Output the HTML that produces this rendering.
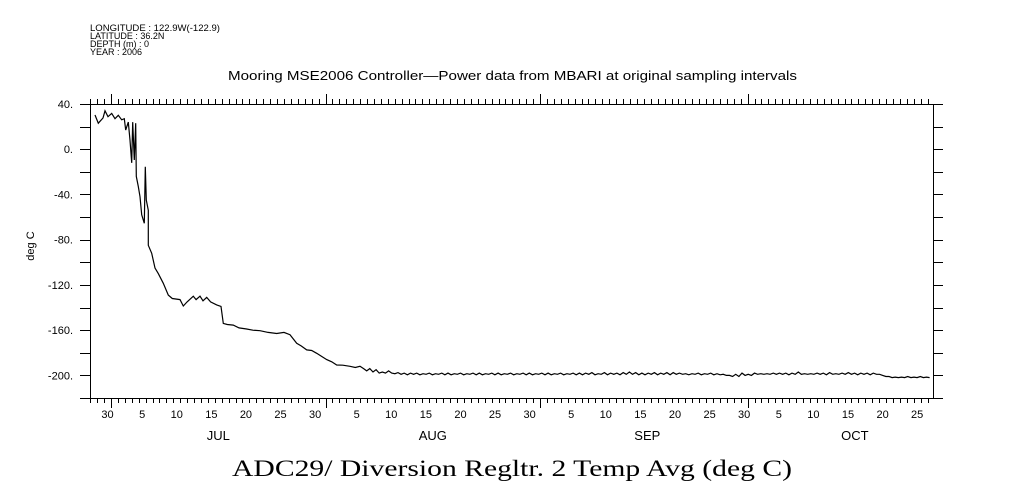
<!DOCTYPE html>
<html><head><meta charset="utf-8"><style>
body{margin:0;background:#fff;}
svg{display:block;font-family:"Liberation Sans",sans-serif;}
</style></head><body>
<svg id="chart" width="1009" height="504" viewBox="0 0 1009 504" xmlns="http://www.w3.org/2000/svg">
<rect width="1009" height="504" fill="#fff"/>
<g font-size="9" fill="#000">
<text x="90" y="31" textLength="130" lengthAdjust="spacingAndGlyphs">LONGITUDE : 122.9W(-122.9)</text>
<text x="90" y="39">LATITUDE : 36.2N</text>
<text x="90" y="47">DEPTH (m) : 0</text>
<text x="90" y="55">YEAR : 2006</text>
</g>
<text x="228" y="80" font-size="12.5" textLength="569" lengthAdjust="spacingAndGlyphs">Mooring MSE2006 Controller—Power data from MBARI at original sampling intervals</text>
<text x="34" y="246" font-size="11" text-anchor="middle" transform="rotate(-90 34 246)">deg C</text>
<text x="232" y="476" font-size="23" font-family="Liberation Serif, serif" textLength="560" lengthAdjust="spacingAndGlyphs">ADC29/ Diversion Regltr. 2 Temp Avg (deg C)</text>
<g id="axes"></g>
<g id="marks"></g>
</svg>
<script>
const yTicks=[40,0,-40,-80,-120,-160,-200];
const monthNames=["JUL","AUG","SEP","OCT"];
const monthStartDays=[0,31,62,92];
const dayLabels=["30","5","10","15","20","25","30","5","10","15","20","25","30","5","10","15","20","25","30","5","10","15","20","25"];
const dayLabelDays=[-1,4,9,14,19,24,29,35,40,45,50,55,60,66,71,76,81,86,91,96,101,106,111,116];
const earlyDays=[-2.31,-1.84,-1.16,-0.87,-0.43,0.1,0.58,1.05,1.55,1.92,2.12,2.5,2.75,2.99,3.14,3.37,3.57,3.66,3.95,4.19,4.44,4.81,4.96,5.1,5.39,5.39,5.88,6.36,6.84,7.56,8.28,8.86,9.97,10.45,11.0,11.89,12.3,12.86,13.3,13.83,14.4,15.27,15.9,16.23,16.8,17.67,18.5,19.6,20.5,21.53,22.7,23.94,25.0,25.87,26.84,27.5,28.28,29.0,29.73,30.4,31.17,31.9,32.62,33.5,34.54,35.3,35.98];
const earlyVals=[30.3,23,27.6,34,28.8,31.7,27,30,26,27,17,24,8,-12,24,-9.5,23,-24,-33,-42,-58,-65.5,-15.5,-45,-54,-85,-92,-105,-110,-118.6,-129,-132,-133,-138.6,-135,-130,-133,-130,-134,-131,-135,-137.7,-139,-154,-155,-155.5,-158,-159,-160,-160.5,-162,-163,-162,-164,-171.6,-174,-177.5,-178,-180.5,-183,-186,-188,-190.8,-191,-192,-193,-192];
const lateStartDay=36.5;
const lateEndDay=118.3;
const lateVals=[-194,-196,-194,-197,-195,-198,-197,-198,-196,-198,-198.5,-197.5,-199,-198,-199.5,-198,-199,-198,-199.5,-198.5,-199,-198,-199.5,-198.5,-199,-198,-199.5,-198,-199.5,-198.5,-199,-198,-199.5,-198.5,-199,-198,-199.5,-198,-199.5,-198.5,-199,-198,-199.5,-198,-199.5,-198.5,-199,-198,-199.5,-198.5,-199,-198,-199.5,-198,-199.5,-198.5,-199,-198,-199.5,-198,-199.5,-198.5,-199,-198,-199.5,-198.5,-199,-198,-199.5,-198,-199.5,-198,-199,-197.5,-199.5,-198.5,-199,-197.5,-199.5,-198,-199,-198,-199.5,-197.5,-199,-197,-199,-197.5,-199.5,-198,-199.5,-198,-199,-197.5,-199.5,-198,-199,-197.5,-199.5,-197.5,-199,-198,-199,-198.5,-199.5,-198.5,-199,-198,-199.5,-198.5,-199,-198,-199.5,-198.5,-199.5,-199,-200,-200,-201,-199,-201,-198,-200,-199,-200,-198,-199,-198.5,-199,-198.5,-199,-198,-199,-198,-199,-198,-199.5,-198,-199,-197,-199,-198.5,-199,-198.5,-199,-198,-199,-198,-199.5,-197.5,-199,-198.5,-199,-198,-199,-197.5,-199,-198,-199.5,-198,-199,-198,-199.5,-198,-199,-199,-200,-201,-201,-202,-201.5,-202,-201.5,-202,-201,-202,-201.5,-202,-201,-202,-201.5,-202];

const L=90,R=933,T=104,B=398;
const x=d=>111+6.92*d;
const y=v=>T+(40-v)*(B-T)/260;
const NS="http://www.w3.org/2000/svg";
const axes=document.getElementById('axes'),marks=document.getElementById('marks');
function mk(tag,attrs,parent){const e=document.createElementNS(NS,tag);for(const k in attrs)e.setAttribute(k,attrs[k]);parent.appendChild(e);return e;}

const frame=mk('rect',{x:L+0.5,y:T+0.5,width:R-L,height:B-T,fill:'none',stroke:'#000','stroke-width':1},axes);


for(let v=40;v>=-220;v-=20){
  const yy=Math.round(y(v))+0.5;
  const t1=mk('line',{x1:L-10,x2:L,y1:yy,y2:yy,stroke:'#000'},axes);
  
  
  const t2=mk('line',{x1:R,x2:R+10,y1:yy,y2:yy,stroke:'#000'},axes);
  
  
}
yTicks.forEach(v=>{
  const t=mk('text',{x:L-17,y:y(v)+4,'font-size':11,'text-anchor':'end'},axes);
  t.textContent=v+'.';
  
  
});
for(let d=-3;d<=118;d++){
  const xx=Math.round(x(d))+0.5;
  if(xx<L||xx>R)continue;
  const major=monthStartDays.includes(d);
  const len=major?10:5;
  const a=mk('line',{x1:xx,x2:xx,y1:B,y2:B+len,stroke:'#000'},axes);
  
  
  const b=mk('line',{x1:xx,x2:xx,y1:T-len,y2:T,stroke:'#000'},axes);
  
  
}
dayLabels.forEach((s,i)=>{
  const t=mk('text',{x:x(dayLabelDays[i]+0.5),y:B+20,'font-size':11,'text-anchor':'middle'},axes);
  t.textContent=s;
  
  
});
monthNames.forEach((m,i)=>{
  const t=mk('text',{x:x(monthStartDays[i]+15.5),y:B+42,'font-size':13,'text-anchor':'middle'},axes);
  t.textContent=m;
  
  
});
const lateStep=(lateEndDay-lateStartDay)/(lateVals.length-1);
let pts=earlyDays.map((d,i)=>x(d).toFixed(1)+','+y(earlyVals[i]).toFixed(1));
lateVals.forEach((v,i)=>{pts.push(x(lateStartDay+i*lateStep).toFixed(1)+','+y(v).toFixed(1));});
const line=mk('polyline',{points:pts.join(' '),fill:'none',stroke:'#000','stroke-width':1.2},marks);


</script>
</body></html>
